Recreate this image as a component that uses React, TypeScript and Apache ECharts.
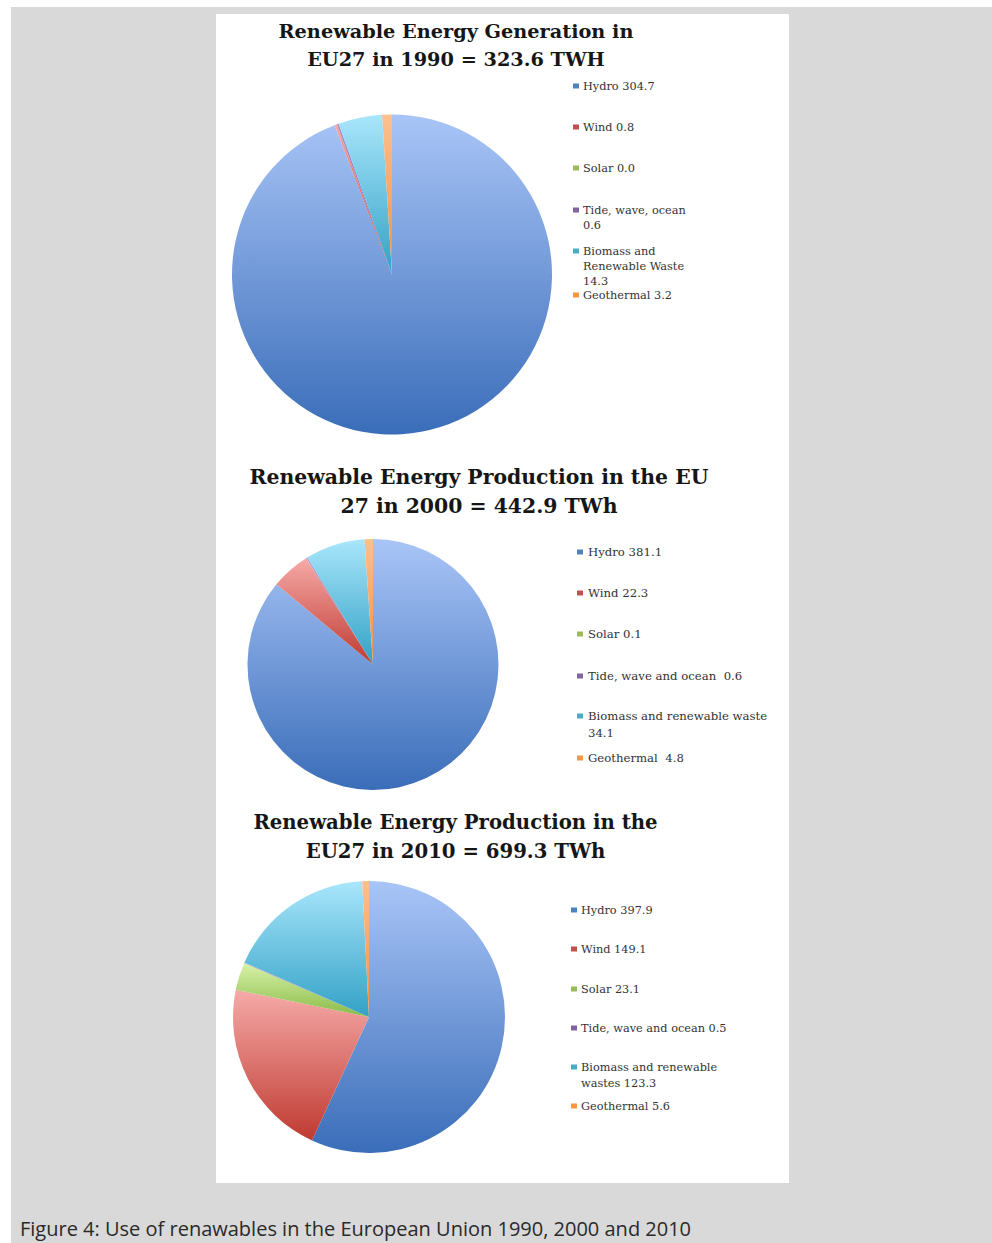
import React, { useEffect, useRef } from "react";
import * as echarts from "echarts";

// Renewable electricity generation in the EU27, TWh
const sources = ["Hydro", "Wind", "Solar", "Tide", "Biomass", "Geothermal"];
const values1990 = [304.7, 0.8, 0.0, 0.6, 14.3, 3.2];
const values2000 = [381.1, 22.3, 0.1, 0.6, 34.1, 4.8];
const values2010 = [397.9, 149.1, 23.1, 0.5, 123.3, 5.6];

// Legend wording differs slightly between the three charts
const names1990 = ["Hydro", "Wind", "Solar", "Tide, wave, ocean", "Biomass and\nRenewable Waste", "Geothermal"];
const sep1990 = [" ", " ", " ", "\n", "\n", " "];
const names2000 = ["Hydro", "Wind", "Solar", "Tide, wave and ocean", "Biomass and renewable waste", "Geothermal"];
const sep2000 = [" ", " ", " ", "  ", "\n", "  "];
const names2010 = ["Hydro", "Wind", "Solar", "Tide, wave and ocean", "Biomass and renewable\nwastes", "Geothermal"];
const sep2010 = [" ", " ", " ", " ", " ", " "];

const titles = [
  "Renewable Energy Generation in\nEU27 in 1990 = 323.6 TWH",
  "Renewable Energy Production in the EU\n27 in 2000 = 442.9 TWh",
  "Renewable Energy Production in the\nEU27 in 2010 = 699.3 TWh",
];

const caption = "Figure 4: Use of renawables in the European Union 1990, 2000 and 2010";

// Office-style palette: legend swatch, slice gradient top, slice gradient bottom
const swatch = ["#4f81bd", "#c0504d", "#9bbb59", "#8064a2", "#4bacc6", "#f79646"];
const gradTop = ["#a9c5f7", "#f6aaa8", "#d8f2a8", "#a890cf", "#a9e6fb", "#fbc08f"];
const gradBottom = ["#3a6db9", "#bf3a31", "#89bb48", "#7657a0", "#32a1c6", "#f48f3f"];

const SERIF = "'DejaVu Serif', 'Liberation Serif', serif";

function sliceData(values: number[]) {
  return values.map((v, i) => ({
    name: sources[i],
    value: v,
    itemStyle: {
      color: new echarts.graphic.LinearGradient(0, 0, 0, 1, [
        { offset: 0, color: gradTop[i] },
        { offset: 1, color: gradBottom[i] },
      ]),
    },
  }));
}

function legendItems(
  names: string[],
  seps: string[],
  values: number[],
  markerX: number,
  textX: number,
  ys: number[],
  fontSize: number,
  lineHeight: number
) {
  const out: any[] = [];
  names.forEach((n, i) => {
    out.push({
      type: "rect",
      shape: { x: markerX, y: ys[i] - 2.5, width: 6, height: 5 },
      style: { fill: swatch[i] },
      silent: true,
    });
    out.push({
      type: "text",
      x: textX,
      y: ys[i] - lineHeight / 2,
      style: {
        text: n + seps[i] + values[i].toFixed(1),
        font: `${fontSize}px ${SERIF}`,
        fill: "#333333",
        lineHeight,
        verticalAlign: "top",
        align: "left",
      },
      silent: true,
    });
  });
  return out;
}

function pieSeries(values: number[], center: [number, number], radius: number) {
  return {
    type: "pie",
    center,
    radius,
    startAngle: 90,
    clockwise: true,
    label: { show: false },
    labelLine: { show: false },
    silent: true,
    itemStyle: { borderWidth: 0 },
    data: sliceData(values),
  };
}

export default function App() {
  const ref = useRef<HTMLDivElement>(null);

  useEffect(() => {
    if (!ref.current) return;
    const chart = echarts.init(ref.current, undefined, { renderer: "svg" });

    const titleStyle = (size: number, lh: number) => ({
      fontFamily: SERIF,
      fontWeight: "bold" as const,
      fontSize: size,
      lineHeight: lh,
      color: "#161616",
    });

    chart.setOption({
      animation: false,
      title: [
        { text: titles[0], left: 456, top: 17, textAlign: "center", padding: 0, textStyle: titleStyle(19.3, 28) },
        { text: titles[1], left: 479, top: 462, textAlign: "center", padding: 0, textStyle: titleStyle(20.4, 29) },
        { text: titles[2], left: 455.5, top: 808, textAlign: "center", padding: 0, textStyle: titleStyle(19.7, 29) },
      ],
      graphic: [
        {
          type: "rect",
          z: -10,
          shape: { x: 11, y: 7, width: 981, height: 1236 },
          style: { fill: "#d9d9d9" },
          silent: true,
        },
        {
          type: "rect",
          z: -9,
          shape: { x: 216, y: 14, width: 573, height: 1169 },
          style: { fill: "#ffffff" },
          silent: true,
        },
        ...legendItems(names1990, sep1990, values1990, 573, 583, [86, 127, 168, 210, 251, 295], 11.3, 15),
        ...legendItems(names2000, sep2000, values2000, 577, 588, [552, 593, 634, 676, 716, 758], 11.7, 17),
        ...legendItems(names2010, sep2010, values2010, 571, 581, [910, 949, 989, 1028, 1067, 1106], 11.3, 16),
        {
          type: "text",
          x: 20,
          y: 1228,
          style: {
            text: caption,
            font: "20px 'Open Sans', 'Noto Sans', sans-serif",
            fill: "#2a2a2a",
            verticalAlign: "middle",
            align: "left",
          },
          silent: true,
        },
      ],
      series: [
        pieSeries(values1990, [392, 274.5], 160),
        pieSeries(values2000, [373, 664.5], 125.5),
        pieSeries(values2010, [369, 1017], 136),
      ],
    });

    return () => chart.dispose();
  }, []);

  return (
    <div
      ref={ref}
      style={{ position: "absolute", left: 0, top: 0, width: 992, height: 1243, background: "#ffffff" }}
    />
  );
}
